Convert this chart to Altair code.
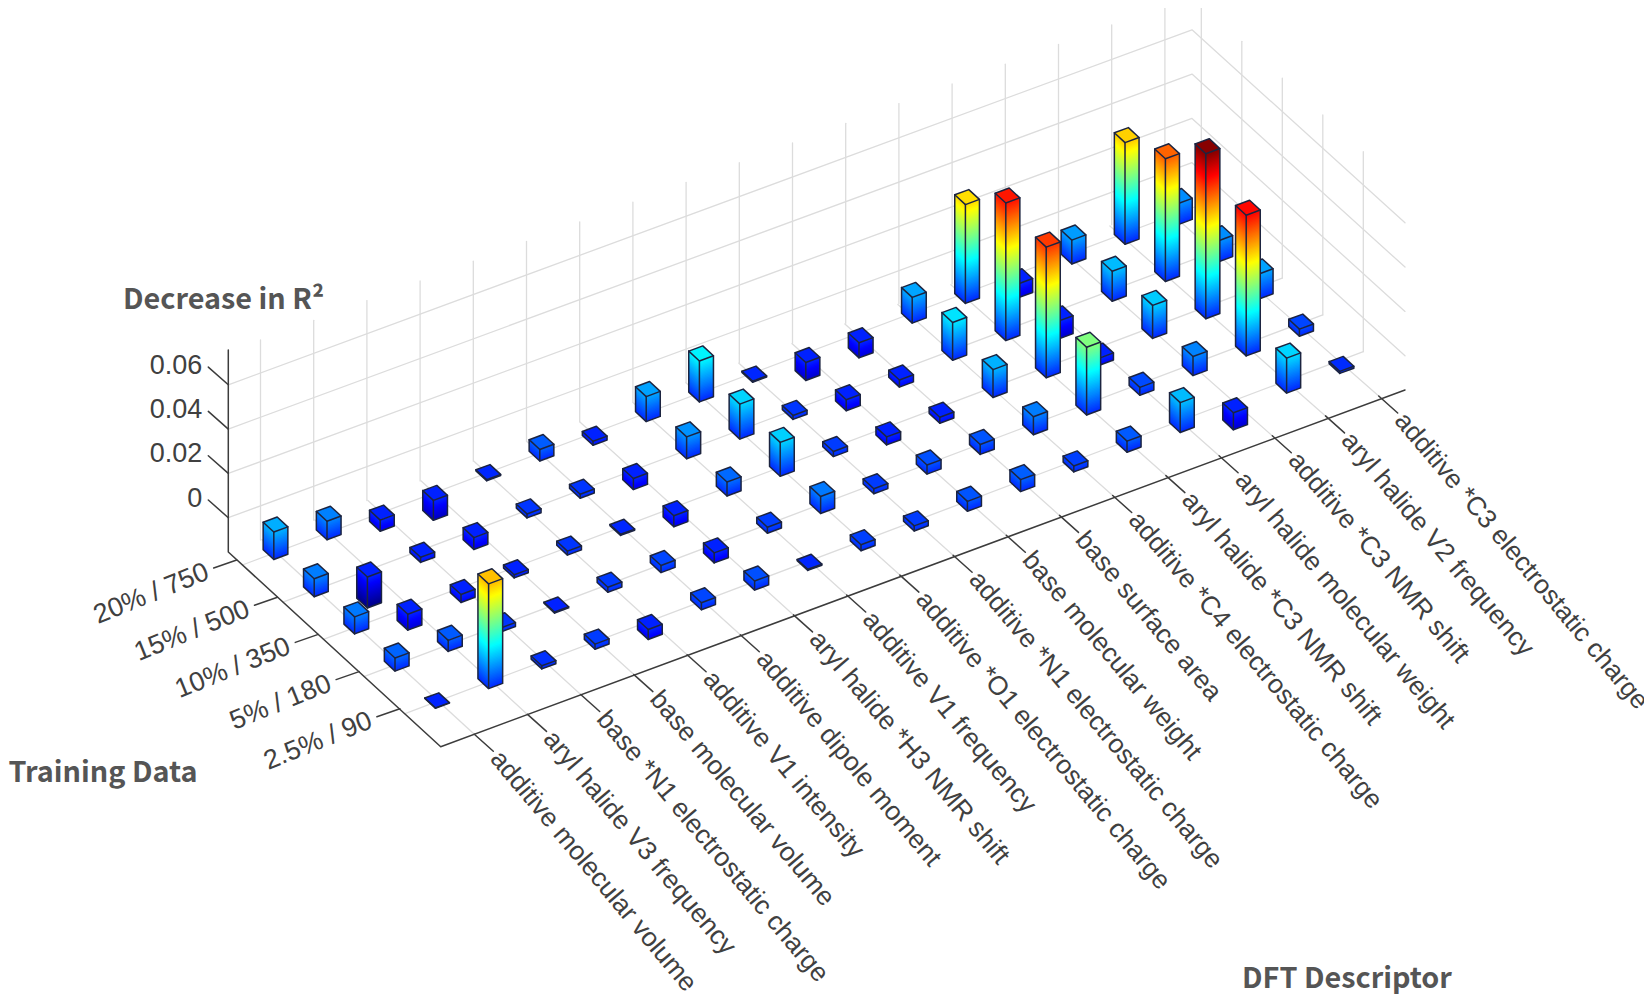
import altair as alt
import pandas as pd

alt.data_transformers.disable_max_rows()

DESCRIPTORS = ["additive molecular volume", "aryl halide V3 frequency", "base *N1 electrostatic charge",
               "base molecular volume", "additive V1 intensity", "additive dipole moment",
               "aryl halide *H3 NMR shift", "additive V1 frequency", "additive *O1 electrostatic charge",
               "additive *N1 electrostatic charge", "base molecular weight", "base surface area",
               "additive *C4 electrostatic charge", "aryl halide *C3 NMR shift", "aryl halide molecular weight",
               "additive *C3 NMR shift", "aryl halide V2 frequency", "additive *C3 electrostatic charge"]
TRAINING = ["20% / 750", "15% / 500", "10% / 350", "5% / 180", "2.5% / 90"]
Z_TICKS = ["0", "0.02", "0.04", "0.06"]

# bar heights above the floor plane, in units of 1e-4 R^2 (one row per training-data level)
ROW_20 = [124, 84, -50, -90, 5, 52, -18, 113, 185, 5, -81, -68, 116, 446, -63, 108, 459, 95]
ROW_15 = [81, -140, -23, -54, 18, 18, -50, 99, 158, 18, -50, -32, 171, 621, -81, 135, 554, 95]
ROW_10 = [77, -72, -36, -14, 18, 5, -50, 63, 153, 23, -36, -27, 126, 590, -32, 149, 745, 113]
ROW_5 = [59, 50, 18, -5, 23, 32, -45, 27, 77, 23, 41, 45, 81, 306, 36, 86, 635, 32]
ROW_2 = [2, 473, 14, 23, -45, 32, 41, 5, 27, 23, 45, 54, 27, 50, 135, -77, 158, 9]
ROWS = [ROW_20, ROW_15, ROW_10, ROW_5, ROW_2]

# projection of the 3-D box onto the page
ORIGIN = (228.3, 552.0)
CV = (53.2, -19.7)
RV = (40.4, 37.2)
ZK = 0.2215
BAR0 = (275.5, 552.0)
S = 0.132
FRONT = (440.7, 746.7)
BACK = (1192.0, 197.0)
RIGHT = (1405.0, 390.0)
WALL_H = 200

xs = alt.Scale(domain=[8, 1644], range=[0, 1636], nice=False, zero=False)
ys = alt.Scale(domain=[994, 8], nice=False, zero=False)
X = alt.X("x:Q", scale=xs, axis=None)
Y = alt.Y("y:Q", scale=ys, axis=None, stack=None)
Y2 = alt.Y2("y2:Q")
cs = alt.Scale(domain=[-140, -28.5, 194.5, 417.5, 640.5, 752],
               range=["#00007f", "#0000ff", "#00ffff", "#ffff00", "#ff0000", "#7f0000"],
               interpolate="rgb")
COLOR = alt.Color("z:Q", scale=cs, legend=None)


def polylines(lines):
    rows = []
    for k, pts in enumerate(lines):
        for o, (x, y) in enumerate(pts):
            rows.append({"k": k, "o": o, "x": x, "y": y})
    return pd.DataFrame(rows)


def line_layer(lines, color, width):
    return alt.Chart(polylines(lines)).mark_line(color=color, strokeWidth=width, strokeCap="round",
                                                 strokeJoin="round").encode(
        x=X, y=alt.Y("y:Q", scale=ys, axis=None), detail="k:N", order="o:Q")


# ---- grid ----
grid = []
for i in range(18):
    wx, wy = 260.5 + CV[0] * i, 540.0 + CV[1] * i
    grid.append([(wx, wy), (wx, wy - WALL_H)])
    grid.append([(261.9 + 53.0 * i, 539.6 - 19.6 * i), (474.3 + CV[0] * i, 734.3 - 19.9 * i)])
for j in range(5):
    bx, by = 1201.3 + 40.5 * j, 204.5 + 36.8 * j
    grid.append([(bx, by), (bx, by - WALL_H)])
    grid.append([(242.4 + 40.5 * j, 565.0 + 37.2 * j), (bx, by)])
for n in range(4):
    d = 44.3 * n + 34.3
    grid.append([(ORIGIN[0], ORIGIN[1] - d), (BACK[0], BACK[1] - d), (RIGHT[0], RIGHT[1] - d)])

# ---- axes and ticks ----
axes = [[(ORIGIN[0], ORIGIN[1] - 202), ORIGIN, FRONT, RIGHT]]
z_lab, row_lab, col_lab = [], [], []
for n, t in enumerate(Z_TICKS):
    y = ORIGIN[1] - 34.3 - 44.3 * n
    axes.append([(ORIGIN[0], y), (ORIGIN[0] - 20, y - 17.7)])
    z_lab.append({"x": ORIGIN[0] - 26, "y": y - 19, "t": t})
for j, t in enumerate(TRAINING):
    x, y = 236.7 + 40.8 * j, 560.0 + 37.2 * j
    axes.append([(x, y), (x - 23, y + 8)])
    row_lab.append({"x": x - 29, "y": y + 11, "t": t})
for i, t in enumerate(DESCRIPTORS):
    x, y = 474.3 + CV[0] * i, 734.3 - 19.9 * i
    axes.append([(x, y), (x + 19, y + 17)])
    col_lab.append({"x": x + 21, "y": y + 20, "t": t})


def bar_layers(i, j, h):
    cx, cy = BAR0[0] + CV[0] * i + RV[0] * j, BAR0[1] + CV[1] * i + RV[1] * j
    L = (cx - S * (CV[0] + RV[0]), cy - S * (CV[1] + RV[1]))
    F = (cx + S * (RV[0] - CV[0]), cy + S * (RV[1] - CV[1]))
    R = (cx + S * (CV[0] + RV[0]), cy + S * (CV[1] + RV[1]))
    B = (cx + S * (CV[0] - RV[0]), cy + S * (CV[1] - RV[1]))
    hi, lo = max(h, 0), min(h, 0)
    top_px, bot_px = hi * ZK, lo * ZK
    rows = []
    n = max(1, int(round((top_px - bot_px) / 1.5)))
    key = 0
    for m in range(n):
        a = bot_px + (top_px - bot_px) * m / n
        b = bot_px + (top_px - bot_px) * (m + 1) / n
        z = ((a + b) / 2) / ZK
        for P, Q in ((L, F), (F, R)):
            for pt in (P, Q):
                # each slice runs on under the next one so that no seam shows
                lap = 1.2 if m > 0 else 0.0
                rows.append({"k": key, "x": pt[0], "y": pt[1] - a + lap, "y2": pt[1] - b, "z": z})
            key += 1
    # the lid of the bar
    def interp(p, q, x):
        return p[1] + (q[1] - p[1]) * (x - p[0]) / (q[0] - p[0])
    for x in (L[0], F[0], B[0], R[0]):
        lower = interp(L, F, x) if x <= F[0] else interp(F, R, x)
        upper = interp(L, B, x) if x <= B[0] else interp(B, R, x)
        rows.append({"k": key, "x": x, "y": lower - top_px, "y2": upper - top_px, "z": hi})
    # slices are drawn bottom first; zero-padded keys keep that drawing order
    df = pd.DataFrame(rows)
    df["k"] = df["k"].map(lambda v: f"{v:05d}")
    faces = alt.Chart(df).mark_area(interpolate="linear", strokeWidth=0).encode(
        x=X, y=Y, y2=Y2, color=COLOR, detail="k:N")
    t = lambda p: (p[0], p[1] - top_px)
    u = lambda p: (p[0], p[1] - bot_px)
    edges = [[t(L), t(F), t(R), t(B), t(L)], [t(F), u(F)], [t(L), u(L), u(F), u(R), t(R)]]
    return [faces, line_layer(edges, "#1c2440", 1.5)]


layers = [line_layer(grid, "#dcdcdc", 1.3)]
for i in range(17, -1, -1):
    for j in range(5):
        layers += bar_layers(i, j, ROWS[j][i])
layers.append(line_layer(axes, "#3c3c3c", 1.5))

FONT = "Liberation Sans"
TXT = "#404040"
layers.append(alt.Chart(pd.DataFrame(z_lab)).mark_text(font=FONT, fontSize=27, color=TXT, align="right",
              baseline="middle").encode(x=X, y=alt.Y("y:Q", scale=ys, axis=None), text="t:N"))
layers.append(alt.Chart(pd.DataFrame(row_lab)).mark_text(font=FONT, fontSize=27, color=TXT, align="right",
              baseline="middle", angle=338).encode(x=X, y=alt.Y("y:Q", scale=ys, axis=None), text="t:N"))
layers.append(alt.Chart(pd.DataFrame(col_lab)).mark_text(font=FONT, fontSize=26.4, color=TXT, align="left",
              baseline="middle", angle=50).encode(x=X, y=alt.Y("y:Q", scale=ys, axis=None), text="t:N"))
titles = pd.DataFrame([{"x": 123, "y": 300, "t": "Decrease in R²"},
                       {"x": 8.5, "y": 773, "t": "Training Data"},
                       {"x": 1242, "y": 979, "t": "DFT Descriptor"}])
layers.append(alt.Chart(titles).mark_text(font="Noto Sans CJK SC", fontSize=28.8, fontWeight="bold", color="#555555",
              align="left", baseline="middle").encode(x=X, y=alt.Y("y:Q", scale=ys, axis=None), text="t:N"))

chart = alt.layer(*layers).properties(
    width=1636, height=986, padding=0, autosize=alt.AutoSizeParams(type="none")
).configure_view(stroke=None)
chart.save("out.html", embed_options={"renderer": "svg", "actions": False})
